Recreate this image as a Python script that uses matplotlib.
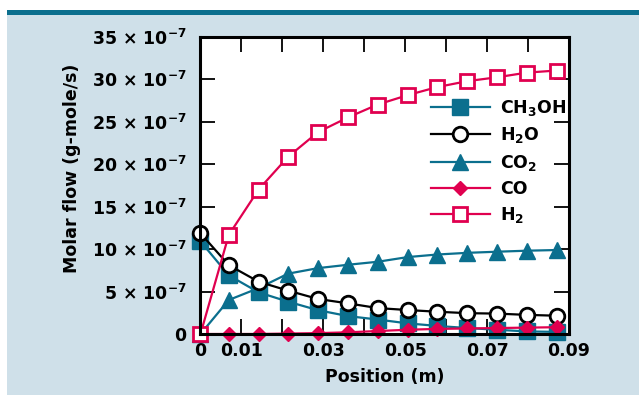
import numpy as np
import matplotlib
matplotlib.use("Agg")
import matplotlib.pyplot as plt
from matplotlib.patches import Rectangle

plt.rcParams['font.family'] = ['DejaVu Sans']
plt.rcParams['font.weight'] = 'bold'
plt.rcParams['mathtext.default'] = 'regular'

# Daten (Molenstrom in 1e-7 g-mole/s)
position = [0, 0.0069, 0.0142, 0.0214, 0.0287, 0.0361, 0.0433, 0.0506, 0.0578, 0.0652, 0.0724, 0.0797, 0.0871]
ch3oh = [10.9, 6.9, 4.9, 3.8, 2.8, 2.1, 1.7, 1.25, 0.95, 0.7, 0.5, 0.3, 0.25]
h2o = [11.85, 8.1, 6.15, 5.1, 4.12, 3.6, 3.05, 2.82, 2.62, 2.45, 2.4, 2.25, 2.15]
co2 = [0, 4.0, 5.4, 7.1, 7.75, 8.15, 8.5, 9.05, 9.35, 9.55, 9.68, 9.8, 9.88]
co = [0, 0, 0, 0.05, 0.1, 0.2, 0.35, 0.5, 0.6, 0.65, 0.7, 0.75, 0.8]
h2 = [0, 11.65, 17.0, 20.85, 23.75, 25.5, 27.0, 28.1, 29.05, 29.75, 30.2, 30.75, 31.0]

yticks = [0, 5, 10, 15, 20, 25, 30, 35]
xticks = [0, 0.01, 0.02, 0.03, 0.04, 0.05, 0.06, 0.07, 0.08, 0.09]
xticklabels = ['0', '0.01', '', '0.03', '', '0.05', '', '0.07', '', '0.09']

teal = '#0b6f8e'
pink = '#e0004f'
bg = '#cfe0e9'

fig = plt.figure(figsize=(6.39, 3.95), dpi=100)
fig.patches.append(Rectangle((7 / 639, 0), 1, 1 - 15 / 395, transform=fig.transFigure,
                             facecolor=bg, edgecolor='none', zorder=-10))
fig.patches.append(Rectangle((7 / 639, 1 - 15 / 395), 1, 5.5 / 395, transform=fig.transFigure,
                             facecolor=teal, edgecolor='none', zorder=-9))

ax = fig.add_axes([200.5 / 639, 1 - 334 / 395, 368.5 / 639, 297.5 / 395])
ax.set_facecolor('white')

scale = 1e-7
x = np.array(position)
kw = dict(lw=1.6, clip_on=False)
l_co2, = ax.plot(x, np.array(co2) * scale, '-^', color=teal, ms=11.5, label='CO$_2$', **kw)
l_meoh, = ax.plot(x, np.array(ch3oh) * scale, '-s', color=teal, ms=11, label='CH$_3$OH', **kw)
l_h2o, = ax.plot(x, np.array(h2o) * scale, '-o', color='black', mfc='white', mew=2,
                 ms=10.5, label='H$_2$O', **kw)
l_co, = ax.plot(x, np.array(co) * scale, '-D', color=pink, ms=7.5, label='CO', **kw)
l_h2, = ax.plot(x, np.array(h2) * scale, '-s', color=pink, mfc='white', mew=2,
                ms=10.5, label='H$_2$', **kw)

ax.set_xlim(0, 0.09)
ax.set_ylim(0, 35e-7)
ax.set_xticks(xticks)
ax.set_xticklabels(xticklabels)
ax.set_yticks([v * scale for v in yticks])
ax.set_yticklabels(['0' if v == 0 else f'{v} × 10$^{{-7}}$' for v in yticks])
ax.tick_params(direction='in', length=11, width=1.3, labelsize=12.5,
               top=True, right=True)
ax.tick_params(axis='x', pad=6)
ax.tick_params(axis='y', pad=10)
for s in ax.spines.values():
    s.set_linewidth(2.2)

leg = ax.legend([l_meoh, l_h2o, l_co2, l_co, l_h2],
                ['CH$_3$OH', 'H$_2$O', 'CO$_2$', 'CO', 'H$_2$'],
                loc='upper left', bbox_to_anchor=(0.625, 0.793), frameon=False,
                fontsize=12.5, handlelength=3.4, handletextpad=0.6,
                labelspacing=0.42, borderpad=0, borderaxespad=0)

fig.text(385 / 639, 1 - 377 / 395, 'Position (m)', ha='center', va='center', fontsize=12.5)
fig.text(72 / 639, 1 - 168 / 395, 'Molar flow (g-mole/s)', ha='center', va='center',
         rotation=90, fontsize=12.5)

fig.savefig('out.png', dpi=100)
